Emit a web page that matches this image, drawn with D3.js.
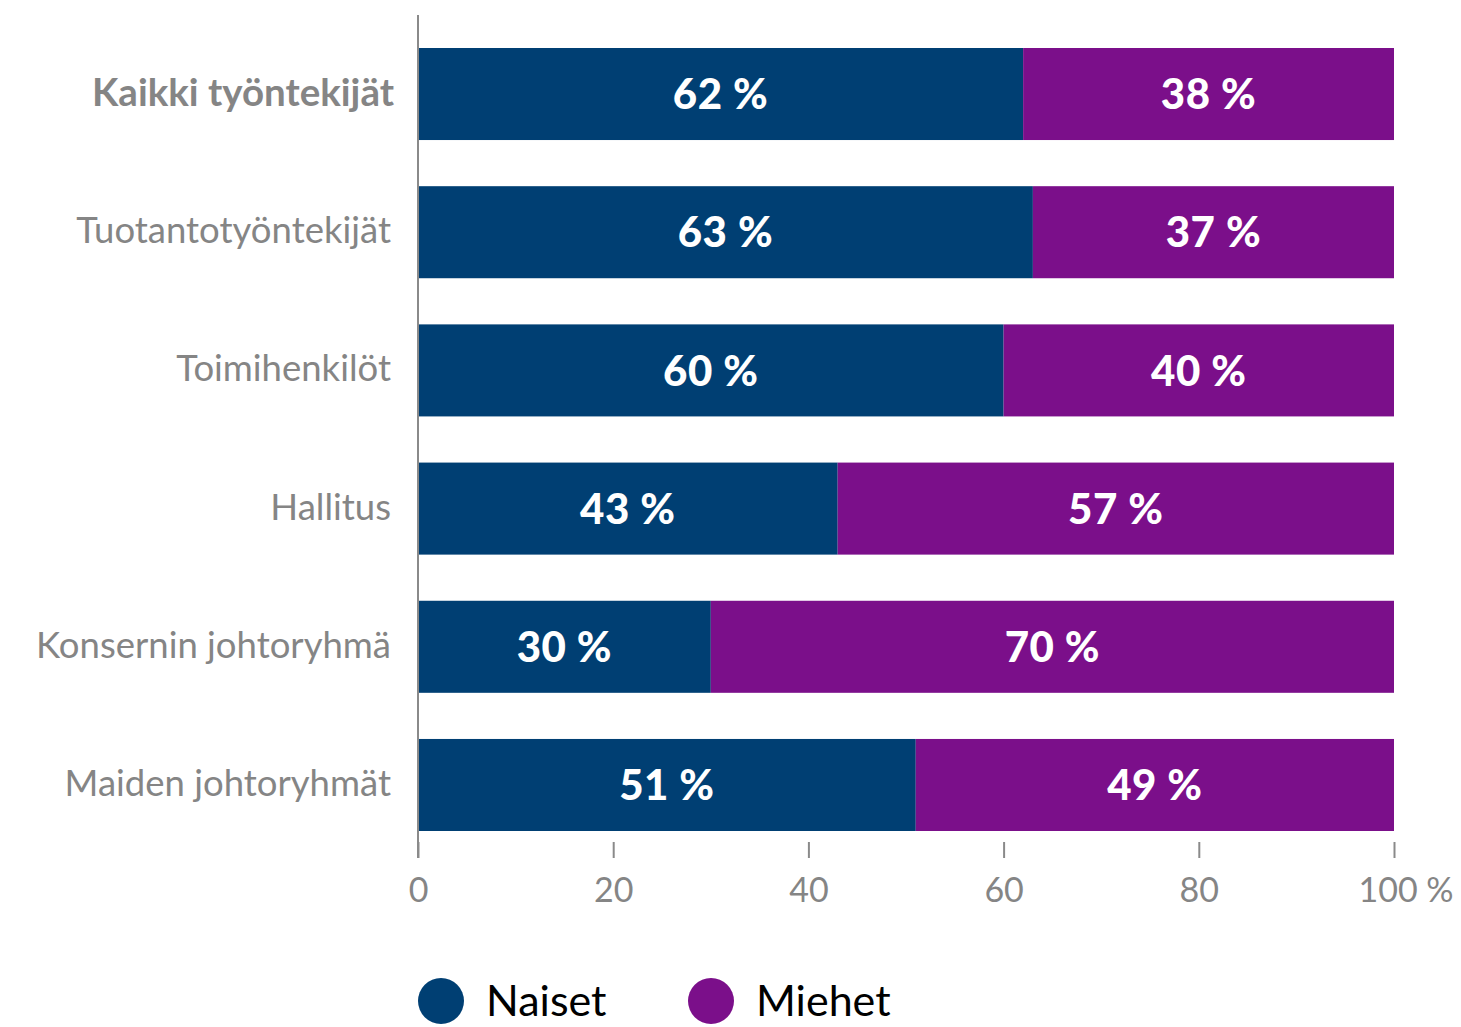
<!DOCTYPE html>
<html>
<head>
<meta charset="utf-8">
<script src="https://cdn.jsdelivr.net/npm/d3@7"></script>
<style>
  body { margin: 0; background: #fff; }
  svg { display: block; }
</style>
</head>
<body>
<script>
// chart data
var categories = ["Kaikki työntekijät", "Tuotantotyöntekijät", "Toimihenkilöt", "Hallitus", "Konsernin johtoryhmä", "Maiden johtoryhmät"];
var naiset = [62, 63, 60, 43, 30, 51];
var miehet = [38, 37, 40, 57, 70, 49];
var seriesNames = ["Naiset", "Miehet"];
var xTicks = [0, 20, 40, 60, 80, 100];

var width = 1461,
    height = 1027;

var colors = { Naiset: "#003f73", Miehet: "#7b0f8a" };

var svg = d3.select("body")
    .append("svg")
    .attr("width", width)
    .attr("height", height);

var x = d3.scaleLinear()
    .domain([0, 100])
    .range([418, 1394]);

var y = d3.scaleBand()
    .domain(categories)
    .range([48, 831])
    .paddingInner(0.334)
    .paddingOuter(0);

var rows = categories.map(function(c, i) {
    return { cat: c, Naiset: naiset[i], Miehet: miehet[i] };
});
var stacked = d3.stack().keys(seriesNames)(rows);

//bars
var layers = svg.selectAll(".layer")
    .data(stacked)
    .enter()
    .append("g")
    .attr("class", "layer")
    .attr("fill", function(d) { return colors[d.key]; });

layers.selectAll("rect")
    .data(function(d) { return d; })
    .enter()
    .append("rect")
    .attr("x", function(d) { return x(d[0]); })
    .attr("y", function(d) { return y(d.data.cat); })
    .attr("width", function(d) { return x(d[1]) - x(d[0]); })
    .attr("height", y.bandwidth());

//value labels
layers.selectAll("text")
    .data(function(d) { return d; })
    .enter()
    .append("text")
    .attr("x", function(d) { return (x(d[0]) + x(d[1])) / 2; })
    .attr("y", function(d) { return y(d.data.cat) + y.bandwidth() / 2; })
    .attr("dy", "0.36em")
    .attr("text-anchor", "middle")
    .attr("fill", "#fff")
    .style("font-family", "Lato, sans-serif")
    .style("font-weight", "900")
    .style("font-size", "42px")
    .style("letter-spacing", "0.5px")
    .text(function(d) { return (d[1] - d[0]) + " %"; });

//category labels
svg.selectAll(".cat")
    .data(categories)
    .enter()
    .append("text")
    .attr("class", "cat")
    .attr("x", function(d, i) { return i === 0 ? 394 : 391; })
    .attr("y", function(d) { return y(d) + y.bandwidth() / 2; })
    .attr("dy", "0.3em")
    .attr("text-anchor", "end")
    .attr("fill", "#858585")
    .style("font-family", "Lato, sans-serif")
    .style("font-weight", function(d, i) { return i === 0 ? "700" : "400"; })
    .style("font-size", function(d, i) { return i === 0 ? "38.5px" : "36.5px"; })
    .text(function(d) { return d; });

//vertical axis line
svg.append("line")
    .attr("x1", x(0)).attr("x2", x(0))
    .attr("y1", 15).attr("y2", 858)
    .attr("stroke", "#8a8a8a")
    .attr("stroke-width", 2);

//x axis
var xAxis = d3.axisBottom(x)
    .tickValues(xTicks)
    .tickSize(16)
    .tickPadding(20)
    .tickFormat(function(d) { return d === 100 ? "100 %" : d; });

var gx = svg.append("g")
    .attr("transform", "translate(0,842)")
    .call(xAxis);
gx.select(".domain").remove();
gx.selectAll(".tick line").attr("stroke", "#8a8a8a").attr("stroke-width", 2);
gx.selectAll(".tick text")
    .attr("fill", "#858585")
    .style("font-family", "Lato, sans-serif")
    .style("font-size", "34px");
gx.selectAll(".tick text").filter(function(d) { return d === 100; })
    .attr("text-anchor", "start")
    .attr("dx", "-36");

//legend
var legend = svg.selectAll(".legend")
    .data(seriesNames)
    .enter()
    .append("g")
    .attr("class", "legend")
    .attr("transform", function(d, i) { return "translate(" + (441 + i * 270) + ",1001)"; });

legend.append("circle")
    .attr("r", 23)
    .attr("fill", function(d) { return colors[d]; });

legend.append("text")
    .attr("x", 45)
    .attr("dy", "0.36em")
    .attr("fill", "#000")
    .style("font-family", "Lato, sans-serif")
    .style("font-size", "43px")
    .text(function(d) { return d; });
</script>
</body>
</html>
